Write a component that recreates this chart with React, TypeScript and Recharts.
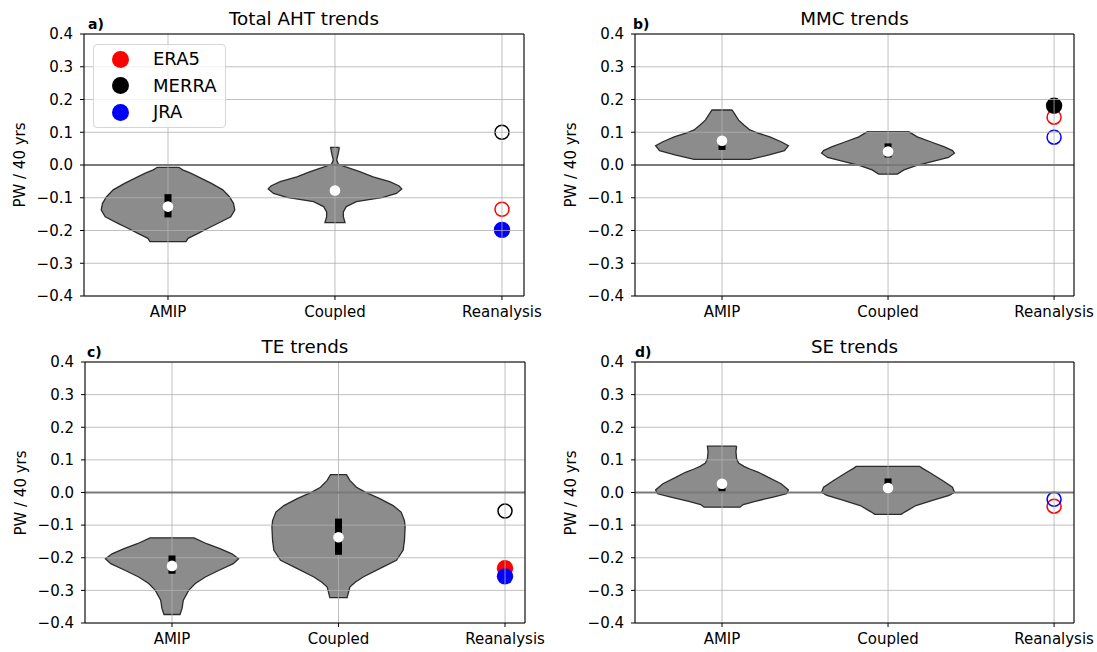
import React from "react";
import {
  CartesianGrid,
  ComposedChart,
  Legend,
  ReferenceArea,
  ReferenceLine,
  Scatter,
  XAxis,
  YAxis,
} from "recharts";

const CATEGORIES = ["AMIP", "Coupled", "Reanalysis"];
const Y_TICKS = [-0.4, -0.3, -0.2, -0.1, 0, 0.1, 0.2, 0.3, 0.4];
const REANALYSES = ["ERA5", "MERRA", "JRA"];
const REANALYSIS_COLORS = ["#ff0000", "#000000", "#0000ff"];

// Violin outlines: [trend (PW / 40 yrs), relative density 0..1], top to bottom
const AHT_AMIP_VIOLIN = [
  [-0.007, 0.16], [-0.015, 0.22], [-0.025, 0.34], [-0.056, 0.65], [-0.076, 0.82],
  [-0.097, 0.92], [-0.117, 0.98], [-0.137, 1.0], [-0.158, 0.94], [-0.178, 0.75],
  [-0.193, 0.6], [-0.209, 0.45], [-0.224, 0.3], [-0.234, 0.27],
];
const AHT_COUPLED_VIOLIN = [
  [0.054, 0.065], [0.036, 0.05], [0.015, 0.025], [0.003, 0.05], [-0.005, 0.15],
  [-0.02, 0.37], [-0.036, 0.57], [-0.051, 0.82], [-0.064, 0.96], [-0.073, 1.0],
  [-0.087, 0.92], [-0.099, 0.72], [-0.112, 0.32], [-0.127, 0.17], [-0.143, 0.125],
  [-0.158, 0.125], [-0.176, 0.15],
];
const MMC_AMIP_VIOLIN = [
  [0.168, 0.15], [0.153, 0.2], [0.137, 0.25], [0.122, 0.33], [0.107, 0.42],
  [0.099, 0.52], [0.086, 0.72], [0.071, 0.89], [0.059, 1.0], [0.044, 0.94],
  [0.031, 0.71], [0.017, 0.42],
];
const MMC_COUPLED_VIOLIN = [
  [0.102, 0.31], [0.086, 0.44], [0.071, 0.64], [0.056, 0.84], [0.044, 0.97],
  [0.036, 1.0], [0.023, 0.91], [0.01, 0.66], [-0.003, 0.41], [-0.015, 0.24],
  [-0.028, 0.14],
];
const TE_AMIP_VIOLIN = [
  [-0.139, 0.33], [-0.157, 0.52], [-0.172, 0.72], [-0.188, 0.9], [-0.203, 1.0],
  [-0.218, 0.92], [-0.239, 0.7], [-0.259, 0.5], [-0.279, 0.35], [-0.3, 0.25],
  [-0.33, 0.17], [-0.356, 0.15], [-0.374, 0.12],
];
const TE_COUPLED_VIOLIN = [
  [0.055, 0.12], [0.037, 0.17], [0.016, 0.27], [0.001, 0.4], [-0.019, 0.62],
  [-0.04, 0.82], [-0.06, 0.94], [-0.086, 0.99], [-0.106, 1.0], [-0.147, 0.99],
  [-0.177, 0.97], [-0.208, 0.87], [-0.228, 0.67], [-0.259, 0.37], [-0.275, 0.25],
  [-0.29, 0.17], [-0.322, 0.13],
];
const SE_AMIP_VIOLIN = [
  [0.142, 0.22], [0.125, 0.21], [0.103, 0.22], [0.09, 0.25], [0.08, 0.33],
  [0.072, 0.42], [0.062, 0.55], [0.047, 0.69], [0.027, 0.89], [0.008, 1.0],
  [-0.004, 0.97], [-0.014, 0.77], [-0.027, 0.5], [-0.037, 0.32], [-0.045, 0.27],
];
const SE_COUPLED_VIOLIN = [
  [0.08, 0.48], [0.074, 0.52], [0.062, 0.62], [0.037, 0.82], [0.016, 0.97],
  [0.001, 1.0], [-0.009, 0.92], [-0.024, 0.67], [-0.04, 0.42], [-0.06, 0.25],
  [-0.067, 0.2],
];

// [q1, median, q3]
const AHT_AMIP_STATS = [-0.16, -0.127, -0.089];
const AHT_COUPLED_STATS = [-0.084, -0.078, -0.072];
const MMC_AMIP_STATS = [0.046, 0.074, 0.08];
const MMC_COUPLED_STATS = [0.023, 0.041, 0.066];
const TE_AMIP_STATS = [-0.249, -0.225, -0.193];
const TE_COUPLED_STATS = [-0.191, -0.137, -0.08];
const SE_AMIP_STATS = [0.004, 0.027, 0.035];
const SE_COUPLED_STATS = [0.003, 0.014, 0.043];

// ERA5, MERRA, JRA trends; filled marker = significant
const AHT_REANALYSIS = [-0.135, 0.1, -0.198];
const AHT_SIGNIFICANT = [false, false, true];
const MMC_REANALYSIS = [0.146, 0.181, 0.085];
const MMC_SIGNIFICANT = [false, true, false];
const TE_REANALYSIS = [-0.232, -0.057, -0.257];
const TE_SIGNIFICANT = [true, false, true];
const SE_REANALYSIS = [-0.042, null, -0.021];
const SE_SIGNIFICANT = [false, false, false];

const FONT = "'DejaVu Sans', sans-serif";
const HALF_WIDTH = 0.4;
const AXIS_LEFT = 84;
const AXIS_TOP = 34;
const AXIS_RIGHT = 25;
const AXIS_BOTTOM = 32;
const YAXIS_W = 40;
const XAXIS_H = 28;

type Profile = number[][];

const PANELS = [
  {
    letter: "a)", title: "Total AHT trends",
    violins: [AHT_AMIP_VIOLIN, AHT_COUPLED_VIOLIN], stats: [AHT_AMIP_STATS, AHT_COUPLED_STATS],
    reanalysis: AHT_REANALYSIS, significant: AHT_SIGNIFICANT,
    xDomain: [-0.503, 2.132], plot: { left: 84, top: 34, right: 524, bottom: 296 },
    letterDx: 4, legend: true,
  },
  {
    letter: "b)", title: "MMC trends",
    violins: [MMC_AMIP_VIOLIN, MMC_COUPLED_VIOLIN], stats: [MMC_AMIP_STATS, MMC_COUPLED_STATS],
    reanalysis: MMC_REANALYSIS, significant: MMC_SIGNIFICANT,
    xDomain: [-0.524, 2.12], plot: { left: 635, top: 34, right: 1074, bottom: 296 },
    letterDx: -2, legend: false,
  },
  {
    letter: "c)", title: "TE trends",
    violins: [TE_AMIP_VIOLIN, TE_COUPLED_VIOLIN], stats: [TE_AMIP_STATS, TE_COUPLED_STATS],
    reanalysis: TE_REANALYSIS, significant: TE_SIGNIFICANT,
    xDomain: [-0.5225, 2.12], plot: { left: 85, top: 362, right: 525, bottom: 623 },
    letterDx: 2, legend: false,
  },
  {
    letter: "d)", title: "SE trends",
    violins: [SE_AMIP_VIOLIN, SE_COUPLED_VIOLIN], stats: [SE_AMIP_STATS, SE_COUPLED_STATS],
    reanalysis: SE_REANALYSIS, significant: SE_SIGNIFICANT,
    xDomain: [-0.524, 2.12], plot: { left: 635, top: 362, right: 1074, bottom: 623 },
    letterDx: 0, legend: false,
  },
];

function violinOutline(profile: Profile, pos: number) {
  const right = profile.map(([v, d]) => ({ x: pos + d * HALF_WIDTH, y: v }));
  const left = [...profile].reverse().map(([v, d]) => ({ x: pos - d * HALF_WIDTH, y: v }));
  return [...right, ...left, right[0]];
}

const fmtY = (v: number) =>
  Math.abs(v) < 1e-9 ? "0.0" : v < 0 ? "\u2212" + Math.abs(v).toFixed(1) : v.toFixed(1);

const NoDot = () => <g />;

const MedianDot = (p: any) => <circle cx={p.cx} cy={p.cy} r={5.3} fill="#fff" />;

const ReanalysisDot = (p: any) => {
  const { filled, color } = p.payload;
  return filled ? (
    <circle cx={p.cx} cy={p.cy} r={8.2} fill={color} />
  ) : (
    <circle cx={p.cx} cy={p.cy} r={7} fill="none" stroke={color} strokeWidth={1.5} />
  );
};

function LegendBox() {
  return (
    <div
      style={{
        width: 133, height: 84, boxSizing: "border-box", border: "1px solid #d6d6d6",
        borderRadius: 4, background: "rgba(255,255,255,0.8)", paddingTop: 1, fontFamily: FONT,
      }}
    >
      {REANALYSES.map((name, i) => (
        <div key={name} style={{ display: "flex", alignItems: "center", height: 26.5 }}>
          <span
            style={{
              display: "inline-block", width: 17, height: 17, borderRadius: "50%",
              background: REANALYSIS_COLORS[i], marginLeft: 17.5,
            }}
          />
          <span style={{ marginLeft: 24.5, fontSize: 18, lineHeight: 1, color: "#000" }}>{name}</span>
        </div>
      ))}
    </div>
  );
}

function Panel({ cfg }: { cfg: (typeof PANELS)[number] }) {
  const { plot } = cfg;
  const plotW = plot.right - plot.left;
  const plotH = plot.bottom - plot.top;
  const width = plotW + AXIS_LEFT + AXIS_RIGHT;
  const height = plotH + AXIS_TOP + AXIS_BOTTOM;

  const medians = cfg.stats.map((s, i) => ({ x: i, y: s[1] }));
  const points = REANALYSES.map((name, i) => ({
    name,
    rows:
      cfg.reanalysis[i] === null
        ? []
        : [{ x: 2, y: cfg.reanalysis[i], filled: cfg.significant[i], color: REANALYSIS_COLORS[i] }],
  }));

  return (
    <div style={{ position: "absolute", left: plot.left - AXIS_LEFT, top: plot.top - AXIS_TOP, width, height }}>
      <ComposedChart
        width={width}
        height={height}
        margin={{ top: AXIS_TOP, right: AXIS_RIGHT, bottom: AXIS_BOTTOM - XAXIS_H, left: AXIS_LEFT - YAXIS_W }}
      >
        <XAxis
          type="number"
          dataKey="x"
          domain={cfg.xDomain}
          allowDataOverflow
          ticks={CATEGORIES.map((_, i) => i)}
          interval={0}
          tickFormatter={(v) => CATEGORIES[v] ?? ""}
          height={XAXIS_H}
          axisLine={false}
          tickLine={{ stroke: "#000" }}
          tickSize={4}
          tickMargin={6}
          tick={{ fill: "#000", fontSize: 15, fontFamily: FONT }}
        />
        <YAxis
          type="number"
          dataKey="y"
          domain={[-0.4, 0.4]}
          allowDataOverflow
          ticks={Y_TICKS}
          interval={0}
          tickFormatter={fmtY}
          width={YAXIS_W}
          axisLine={false}
          tickLine={{ stroke: "#000" }}
          tickSize={4}
          tickMargin={7}
          tick={{ fill: "#000", fontSize: 15, fontFamily: FONT }}
        />
        {cfg.violins.map((profile, i) => (
          <Scatter
            key={"v" + i}
            data={violinOutline(profile, i)}
            shape={NoDot}
            line={{ fill: "#8c8c8c", stroke: "#2b2b2b", strokeWidth: 1.3 }}
            lineType="joint"
            lineJointType="linear"
            isAnimationActive={false}
            zIndex={100}
          />
        ))}
        {points.map((p) => (
          <Scatter
            key={p.name}
            name={p.name}
            data={p.rows}
            shape={ReanalysisDot}
            isAnimationActive={false}
            zIndex={200}
          />
        ))}
        <CartesianGrid stroke="#b0b0b0" strokeWidth={0.8} zIndex={300} />
        <ReferenceLine y={0} stroke="#7a7a7a" strokeWidth={2} zIndex={400} />
        {cfg.stats.map((s, i) => (
          <Scatter
            key={"q" + i}
            data={[{ x: i, y: s[0] }, { x: i, y: s[2] }]}
            shape={NoDot}
            line={{ stroke: "#000", strokeWidth: 7 }}
            lineType="joint"
            lineJointType="linear"
            isAnimationActive={false}
            zIndex={500}
          />
        ))}
        <Scatter data={medians} shape={MedianDot} isAnimationActive={false} zIndex={600} />
        <ReferenceArea
          x1={cfg.xDomain[0]}
          x2={cfg.xDomain[1]}
          y1={-0.4}
          y2={0.4}
          fill="none"
          fillOpacity={0}
          stroke="#000"
          strokeWidth={1}
          ifOverflow="visible"
          zIndex={700}
        />
        {cfg.legend && (
          <Legend
            layout="vertical"
            align="center"
            verticalAlign="middle"
            content={() => <LegendBox />}
            wrapperStyle={{ left: 93, top: 44, width: 133 }}
          />
        )}
      </ComposedChart>
      <div
        style={{
          position: "absolute", left: AXIS_LEFT, width: plotW, top: 9.5, textAlign: "center",
          fontSize: 18.3, lineHeight: 1, whiteSpace: "nowrap", color: "#000",
        }}
      >
        {cfg.title}
      </div>
      <div
        style={{
          position: "absolute", left: AXIS_LEFT + cfg.letterDx, top: 17.2, fontSize: 14,
          fontWeight: "bold", lineHeight: 1, color: "#000",
        }}
      >
        {cfg.letter}
      </div>
      <div
        style={{
          position: "absolute", left: AXIS_LEFT - 64.5, top: AXIS_TOP + plotH / 2, fontSize: 15,
          lineHeight: 1, whiteSpace: "nowrap", color: "#000",
          transform: "translate(-50%, -50%) rotate(-90deg)",
        }}
      >
        PW / 40 yrs
      </div>
    </div>
  );
}

export default function App() {
  return (
    <div
      style={{
        position: "absolute", left: 0, top: 0, width: 1097, height: 652,
        background: "#fff", fontFamily: FONT, overflow: "hidden",
      }}
    >
      {PANELS.map((cfg) => (
        <Panel key={cfg.letter} cfg={cfg} />
      ))}
    </div>
  );
}
